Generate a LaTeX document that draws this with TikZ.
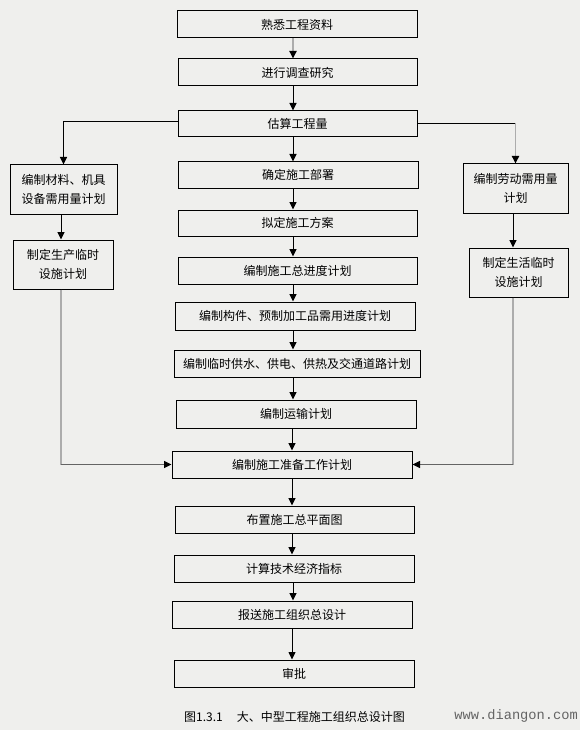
\documentclass[tikz,border=0pt]{standalone}
\usepackage{fontspec}
\setmainfont{Noto Sans CJK SC}
\newfontfamily\wmfont{Liberation Mono}
\usetikzlibrary{arrows.meta}
\definecolor{bg}{RGB}{239,239,237}
\definecolor{lgray}{RGB}{172,172,172}
\definecolor{dgray}{RGB}{100,100,100}
\begin{document}
\begin{tikzpicture}[x=1pt,y=-1pt,
  box/.style={draw=black,line width=1pt,fill=bg,inner sep=0pt,align=center,
    font=\fontsize{12}{19}\selectfont},
  arr/.style={line width=1pt,-{Triangle[width=7pt,length=7.5pt,black]}},
  garr/.style={line width=1.8pt,lgray,-{Triangle[width=7pt,length=7.5pt,black]}},
  gline/.style={line width=1.8pt,lgray},
  dline/.style={line width=1pt,dgray,-{Triangle[width=7pt,length=7.5pt,black]}},
  bline/.style={line width=1pt,black}
]
\fill[bg] (0,0) rectangle (580,730);
\useasboundingbox (0,0) rectangle (580,730);

% central column
\node[box,minimum width=240pt,minimum height=27pt] (b1) at (297,24.5) {熟悉工程资料};
\node[box,minimum width=239pt,minimum height=27pt] (b2) at (297.5,72.5) {进行调查研究};
\node[box,minimum width=239pt,minimum height=26pt] (b3) at (297.5,124) {估算工程量};
\node[box,minimum width=240pt,minimum height=26pt] (b4) at (298,175) {确定施工部署};
\node[box,minimum width=239pt,minimum height=26pt] (b5) at (297.5,223) {拟定施工方案};
\node[box,minimum width=239pt,minimum height=27pt] (b6) at (297.5,270.5) {编制施工总进度计划};
\node[box,minimum width=240pt,minimum height=28pt] (b7) at (295,316) {编制构件、预制加工品需用进度计划};
\node[box,minimum width=246pt,minimum height=27pt] (b8) at (297,363.5) {编制临时供水、供电、供热及交通道路计划};
\node[box,minimum width=240pt,minimum height=28pt] (b9) at (296,414) {编制运输计划};
\node[box,minimum width=240pt,minimum height=27pt] (b10) at (292,464.5) {编制施工准备工作计划};
\node[box,minimum width=239pt,minimum height=27pt] (b11) at (294.5,519.5) {布置施工总平面图};
\node[box,minimum width=240pt,minimum height=27pt] (b12) at (294,568.5) {计算技术经济指标};
\node[box,minimum width=240pt,minimum height=27pt] (b13) at (292,614.5) {报送施工组织总设计};
\node[box,minimum width=240pt,minimum height=27pt] (b14) at (294,673.5) {审批};

% side boxes
\node[box,minimum width=107pt,minimum height=49pt] (l1) at (63.5,189.5) {编制材料、机具\\设备需用量计划};
\node[box,minimum width=100pt,minimum height=49pt] (l2) at (63,264.5) {制定生产临时\\设施计划};
\node[box,minimum width=105pt,minimum height=49pt] (r1) at (515.5,188.5) {编制劳动需用量\\计划};
\node[box,minimum width=99pt,minimum height=49pt] (r2) at (518.5,272.5) {制定生活临时\\设施计划};

% axis coordinates
\coordinate (ax) at (293,0);
\coordinate (bx) at (292,0);
\coordinate (lx) at (61,0);
\coordinate (rx) at (513,0);

% central arrows
\draw[garr] (b1.south -| ax) -- (b2.north -| ax);
\draw[arr] (b2.south -| ax) -- (b3.north -| ax);
\draw[arr] (b3.south -| ax) -- (b4.north -| ax);
\draw[arr] (b4.south -| ax) -- (b5.north -| ax);
\draw[arr] (b5.south -| ax) -- (b6.north -| ax);
\draw[arr] (b6.south -| ax) -- (b7.north -| ax);
\draw[arr] (b7.south -| ax) -- (b8.north -| ax);
\draw[arr] (b8.south -| ax) -- (b9.north -| ax);
\draw[arr] (b9.south -| bx) -- (b10.north -| bx);
\draw[arr] (b10.south -| bx) -- (b11.north -| bx);
\draw[arr] (b11.south -| bx) -- (b12.north -| bx);
\draw[arr] (b12.south -| ax) -- (b13.north -| ax);
\draw[arr,line width=0.8pt] (b13.south -| bx) -- (b14.north -| bx);

% left branch
\draw[arr] ([yshift=2.5pt]b3.west) -| (l1.north);
\draw[arr] (l1.south -| lx) -- (l2.north -| lx);
\coordinate (lc) at (lx |- b10.west);
\draw[gline] (l2.south -| lx) -- (lc);
\draw[dline] (lc) -- (b10.west);

% right branch
\coordinate (rc) at ([yshift=0.5pt]b3.east -| r1.north);
\draw[bline] ([yshift=0.5pt]b3.east) -- (rc);
\draw[garr] (rc) -- (r1.north);
\draw[arr] (r1.south -| rx) -- (r2.north -| rx);
\coordinate (rd) at (rx |- b10.east);
\draw[gline] (r2.south -| rx) -- (rd);
\draw[dline] (rd) -- (b10.east);

% caption and watermark
\node[anchor=west,inner sep=0pt,font=\fontsize{12}{14}\selectfont] (cap) at (184,717) {图1.3.1\hspace{14pt}大、中型工程施工组织总设计图};
\node[anchor=east,inner sep=0pt,text=dgray,font=\wmfont\fontsize{13.7}{15}\selectfont] (wm) at (578,716) {www.diangon.com};
\end{tikzpicture}
\end{document}
